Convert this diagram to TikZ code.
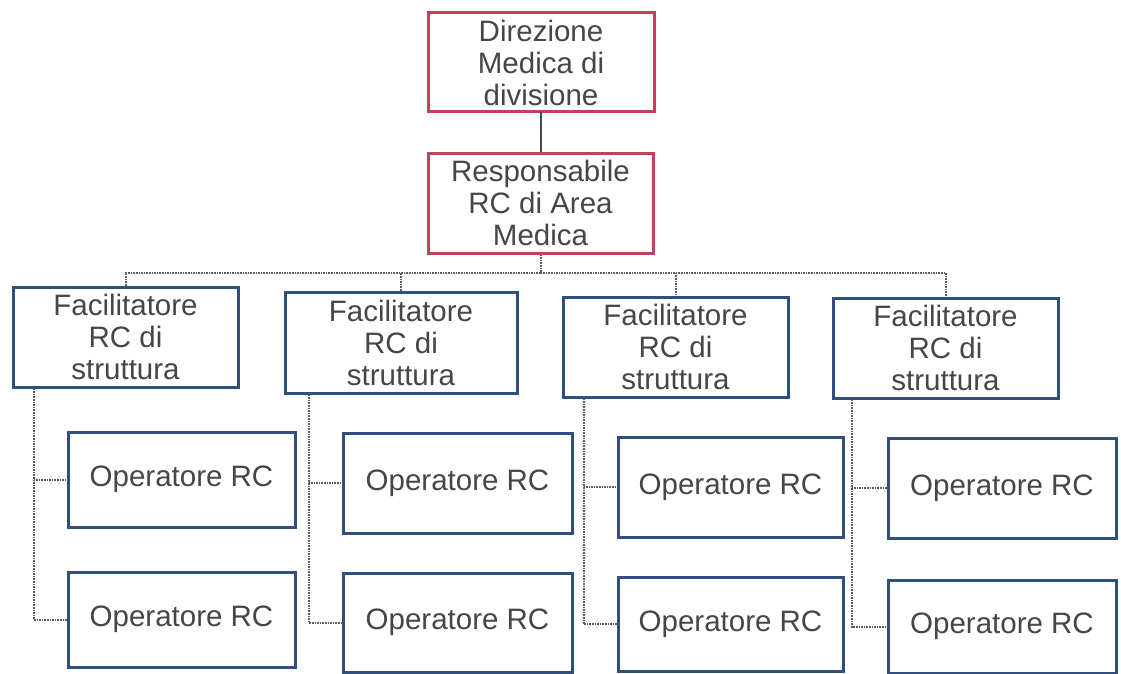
\documentclass[tikz,border=0pt]{standalone}
\usepackage{fontspec}
\setmainfont{Liberation Sans}
\usetikzlibrary{calc}
\definecolor{redbox}{RGB}{196,64,90}
\definecolor{bluebox}{RGB}{50,78,125}
\definecolor{txt}{RGB}{70,70,70}
\definecolor{linegray}{RGB}{90,90,90}
\tikzset{
  box/.style={draw, line width=3pt, fill=white, text=txt, align=center, inner sep=0pt,
    font=\fontsize{29.5pt}{32pt}\selectfont},
  redb/.style={box, draw=redbox},
  blueb/.style={box, draw=bluebox},
  solidconn/.style={draw=linegray!80!black, line width=2pt},
  dotconn/.style={draw=linegray, line width=2pt, dash pattern=on 1.6pt off 1pt}
}
\begin{document}
\begin{tikzpicture}[x=1pt,y=-1pt]
\useasboundingbox (0,0) rectangle (1121,674);
% top
\node[redb, minimum width=226pt, minimum height=99pt] (D) at (541,62.5) {Direzione\\Medica di\\divisione};
\node[redb, minimum width=225pt, minimum height=100pt] (R) at (540.5,203) {Responsabile\\RC di Area\\Medica};
% facilitatori
\node[blueb, minimum width=225pt, minimum height=100pt] (F1) at (125.5,337) {Facilitatore\\RC di\\struttura};
\node[blueb, minimum width=232pt, minimum height=101pt] (F2) at (401,342.5) {Facilitatore\\RC di\\struttura};
\node[blueb, minimum width=225pt, minimum height=100pt] (F3) at (675.5,347) {Facilitatore\\RC di\\struttura};
\node[blueb, minimum width=225pt, minimum height=100pt] (F4) at (945.5,348) {Facilitatore\\RC di\\struttura};
% operatori
\node[blueb, minimum width=227pt, minimum height=95pt] (O1a) at (181.5,479.5) {Operatore RC};
\node[blueb, minimum width=227pt, minimum height=95pt] (O1b) at (181.5,619.5) {Operatore RC};
\node[blueb, minimum width=229pt, minimum height=100pt] (O2a) at (457.5,483) {Operatore RC};
\node[blueb, minimum width=229pt, minimum height=99pt] (O2b) at (457.5,622.5) {Operatore RC};
\node[blueb, minimum width=225pt, minimum height=100pt] (O3a) at (730.5,487) {Operatore RC};
\node[blueb, minimum width=225pt, minimum height=94pt] (O3b) at (730.5,624) {Operatore RC};
\node[blueb, minimum width=228pt, minimum height=100pt] (O4a) at (1002,488) {Operatore RC};
\node[blueb, minimum width=228pt, minimum height=93pt] (O4b) at (1002,626.5) {Operatore RC};
% connectors
\draw[solidconn] (D.south) -- (R.south |- D.south) -- (R.north);
\draw[dotconn] (R.south) -- ++(0,18) coordinate (bus);
\draw[dotconn] (bus) -| (F1.north);
\draw[dotconn] (bus) -| (F2.north);
\draw[dotconn] (bus) -| (F3.north);
\draw[dotconn] (bus) -| (F4.north);
\coordinate (v1) at ($(F1.south west)+(22,0)$);
\coordinate (v2) at ($(F2.south west)+(25,0)$);
\coordinate (v3) at ($(F3.south west)+(22,0)$);
\coordinate (v4) at ($(F4.south west)+(20,0)$);
\draw[dotconn] (v1) |- (O1b.west);
\draw[dotconn] (v1) |- (O1a.west);
\draw[dotconn] (v2) |- (O2b.west);
\draw[dotconn] (v2) |- (O2a.west);
\draw[dotconn] (v3) |- (O3b.west);
\draw[dotconn] (v3) |- (O3a.west);
\draw[dotconn] (v4) |- (O4b.west);
\draw[dotconn] (v4) |- (O4a.west);
\end{tikzpicture}
\end{document}
